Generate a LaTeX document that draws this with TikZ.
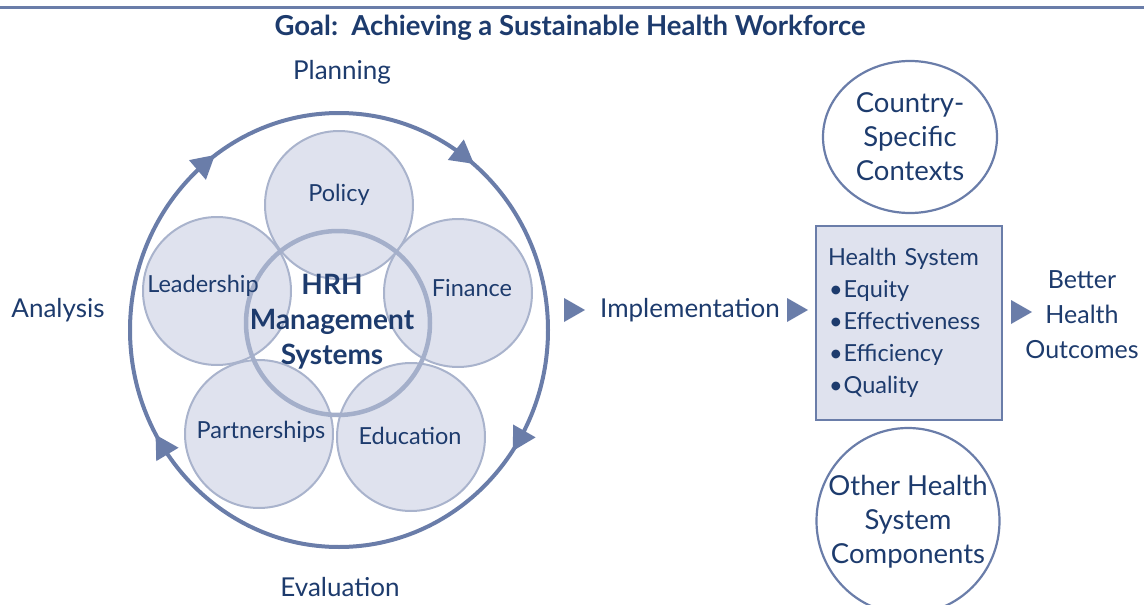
\documentclass[tikz,border=0pt]{standalone}
\usepackage{fontspec}
\setmainfont{Lato}
\usetikzlibrary{shapes.geometric,calc}
\definecolor{navy}{HTML}{1D3B6D}
\definecolor{ring}{HTML}{6A7DA9}
\definecolor{petalfill}{HTML}{DFE2EE}
\definecolor{petaledge}{HTML}{A9B3CC}
\definecolor{hubedge}{HTML}{A4AFCA}
\begin{document}
\begin{tikzpicture}[x=1pt,y=-1pt,
  every node/.style={inner sep=0pt, text=navy},
  steplabel/.style={font=\fontsize{26}{30}\selectfont},
  petaltext/.style={font=\fontsize{23.5}{27}\selectfont},
  petal/.style={circle, minimum size=148pt, fill=petalfill},
  petalline/.style={draw=petaledge, line width=2pt},
  context/.style={ellipse, draw=ring, line width=2.2pt},
  contexttext/.style={align=center, font=\fontsize{27.5}{34}\selectfont}
]
\useasboundingbox (0,0) rectangle (1144,605);

% rule and title
\coordinate (ruleL) at (0,7);
\coordinate (ruleR) at (1144,7);
\draw[ring, line width=3pt] (ruleL) -- (ruleR);
\node[font=\bfseries\fontsize{27.5}{30}\selectfont] (title) at (570,28)
  {Goal:\ \ Achieving a Sustainable Health Workforce};

% management cycle, running clockwise
\coordinate (cyc) at (339,330);
\draw[ring, line width=4pt] (cyc) ellipse[x radius=209, y radius=217];
\foreach \a in {230.4, 306.9, 30.6, 148}
  \fill[ring, shift={($(cyc)+(\a:209 and 217)$)}, rotate={atan2(-217*cos(\a), -209*sin(\a))}]
    (-11,-13) -- (12,0) -- (-11,13) -- cycle;

\node[steplabel] (planning) at (342,72) {Planning};
\node[steplabel] (analysis) at (58,310) {Analysis};
\node[steplabel] (evaluation) at (340,587) {Evaluation};

% five component circles
\node[petal] (policy) at (339,205) {};
\node[petal] (leadership) at (217,291) {};
\node[petal] (finance) at (458,293) {};
\node[petal] (partnerships) at (259,434) {};
\node[petal] (education) at (411,437) {};
\foreach \c in {policy,leadership,finance,partnerships,education}
  \draw[petalline] (\c.center) circle[radius=74];

% central ring
\node[circle, minimum size=184pt, draw=hubedge, line width=4.5pt] (hub) at (338,323) {};

\node[petaltext] at (339,195) {Policy};
\node[petaltext] at (203,286) {Leadership};
\node[petaltext] at (472,288) {Finance};
\node[petaltext] at (261,432) {Partnerships};
\node[petaltext] at (410,436) {Education};
\node[font=\bfseries\fontsize{28}{35}\selectfont, align=center] (hrh) at (332,322)
  {HRH\\Management\\Systems};

% implementation chain with pointer triangles
\coordinate (t1) at (574,310);
\coordinate (t2) at (797,310);
\coordinate (t3) at (1021,312);
\foreach \t in {t1,t2,t3}
  \fill[ring] (\t) ++(-10,-12) -- ++(21,12) -- ++(-21,12) -- cycle;

\node[steplabel] (impl) at (690,310) {Implementation};

\node[draw=ring, line width=2.5pt, fill=petalfill, minimum width=186pt, minimum height=194pt,
  text width=162pt, align=left, font=\fontsize{23.5}{32}\selectfont] (hs) at (909,323)
  {Health System\\
   \hspace*{1pt}•\hspace{1pt}Equity\\
   \hspace*{1pt}•\hspace{1pt}Effectiveness\\
   \hspace*{1pt}•\hspace{1pt}Efficiency\\
   \hspace*{1pt}•\hspace{1pt}Quality};

\node[align=center, font=\fontsize{25}{35}\selectfont] (out) at (1082,315)
  {Better\\Health\\Outcomes};

\node[context, minimum width=174pt, minimum height=152pt] (ctx) at (910,137) {};
\node[contexttext] at (ctx.center) {Country-\\Specific\\Contexts};
\node[context, minimum width=183pt, minimum height=186pt] (other) at (908,521) {};
\node[contexttext] at ([yshift=-1pt]other.center) {Other Health\\System\\Components};
\end{tikzpicture}
\end{document}
